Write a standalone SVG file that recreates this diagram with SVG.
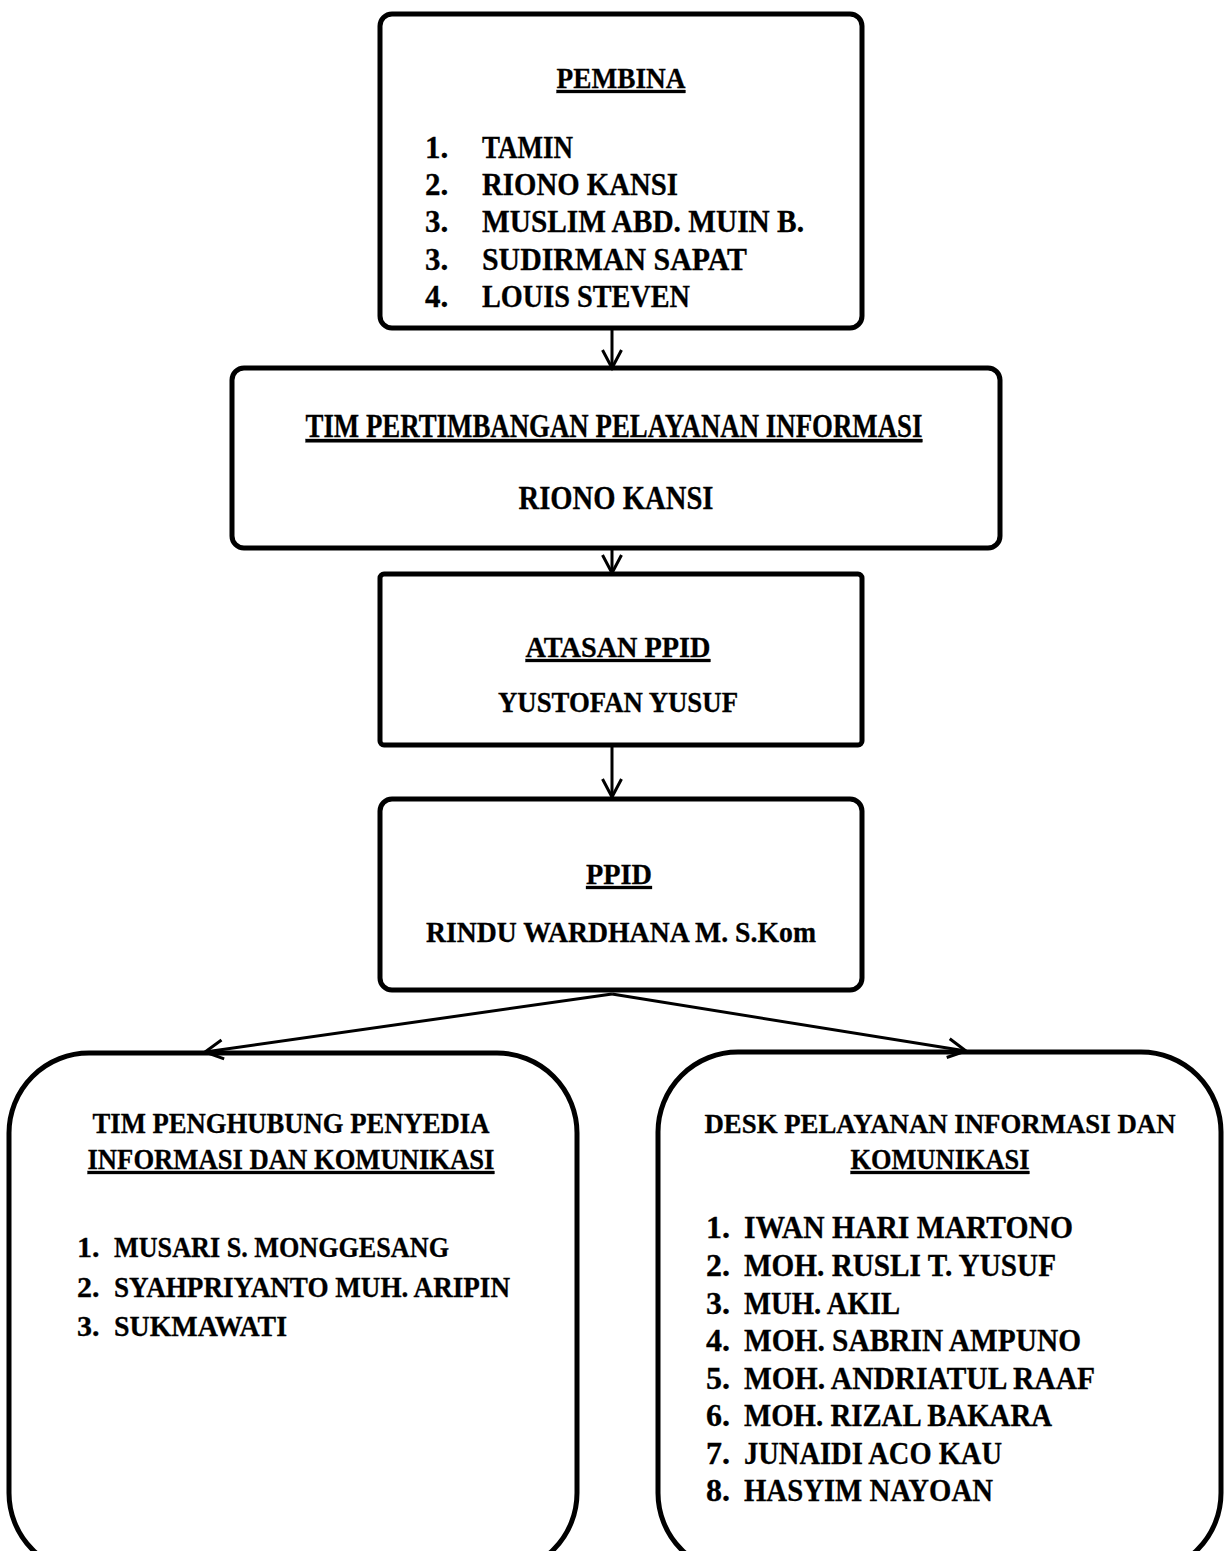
<svg xmlns="http://www.w3.org/2000/svg" width="1224" height="1551" viewBox="0 0 1224 1551">
<defs>
<style>
.box{fill:#fff;stroke:#000;stroke-width:5}
.t{font-family:"Liberation Serif","Times New Roman",serif;font-weight:bold;fill:#000;stroke:#000;stroke-width:0.3}
.u{text-decoration:underline}
.c{text-anchor:middle}
.con{fill:none;stroke:#000;stroke-width:3}
</style>
<marker id="arr" markerUnits="userSpaceOnUse" markerWidth="30" markerHeight="30" refX="21" refY="12" orient="auto">
<path d="M3,2.5 L21,12 L3,21.5" fill="none" stroke="#000" stroke-width="3"/>
</marker>
</defs>
<rect width="1224" height="1551" fill="#fff"/>

<g id="pembina">
<rect class="box" x="380" y="14" width="482" height="314" rx="12"/>
<text class="t c u" x="621" y="88" font-size="30" textLength="129" lengthAdjust="spacingAndGlyphs">PEMBINA</text>
<g class="t" font-size="31">
<text x="425" y="158">1.</text><text x="482" y="158" textLength="91" lengthAdjust="spacingAndGlyphs">TAMIN</text>
<text x="425" y="195">2.</text><text x="482" y="195" textLength="196" lengthAdjust="spacingAndGlyphs">RIONO KANSI</text>
<text x="425" y="232">3.</text><text x="482" y="232" textLength="322" lengthAdjust="spacingAndGlyphs">MUSLIM ABD. MUIN B.</text>
<text x="425" y="270">3.</text><text x="482" y="270" textLength="265" lengthAdjust="spacingAndGlyphs">SUDIRMAN SAPAT</text>
<text x="425" y="307">4.</text><text x="482" y="307" textLength="208" lengthAdjust="spacingAndGlyphs">LOUIS STEVEN</text>
</g>
</g>

<g id="tim-pertimbangan">
<rect class="box" x="232" y="368" width="768" height="180" rx="12"/>
<text class="t c u" x="614" y="437" font-size="33" textLength="617" lengthAdjust="spacingAndGlyphs">TIM PERTIMBANGAN PELAYANAN INFORMASI</text>
<text class="t c" x="616" y="509" font-size="33" textLength="195" lengthAdjust="spacingAndGlyphs">RIONO KANSI</text>
</g>

<g id="atasan-ppid">
<rect class="box" x="380" y="574" width="482" height="171" rx="4"/>
<text class="t c u" x="618" y="657" font-size="30" textLength="185" lengthAdjust="spacingAndGlyphs">ATASAN PPID</text>
<text class="t c" x="618" y="712" font-size="30" textLength="240" lengthAdjust="spacingAndGlyphs">YUSTOFAN YUSUF</text>
</g>

<g id="ppid">
<rect class="box" x="380" y="799" width="482" height="191" rx="12"/>
<text class="t c u" x="619" y="884" font-size="30" textLength="66" lengthAdjust="spacingAndGlyphs">PPID</text>
<text class="t c" x="621" y="942" font-size="30" textLength="390" lengthAdjust="spacingAndGlyphs">RINDU WARDHANA M. S.Kom</text>
</g>

<g id="tim-penghubung">
<rect class="box" x="9" y="1053" width="568" height="520" rx="80"/>
<text class="t c" x="291" y="1133" font-size="30" textLength="397" lengthAdjust="spacingAndGlyphs">TIM PENGHUBUNG PENYEDIA</text>
<text class="t c u" x="291" y="1169" font-size="30" textLength="407" lengthAdjust="spacingAndGlyphs">INFORMASI DAN KOMUNIKASI</text>
<g class="t" font-size="30">
<text x="77" y="1257">1.</text><text x="114" y="1257" textLength="335" lengthAdjust="spacingAndGlyphs">MUSARI S. MONGGESANG</text>
<text x="77" y="1297">2.</text><text x="114" y="1297" textLength="396" lengthAdjust="spacingAndGlyphs">SYAHPRIYANTO MUH. ARIPIN</text>
<text x="77" y="1336">3.</text><text x="114" y="1336" textLength="173" lengthAdjust="spacingAndGlyphs">SUKMAWATI</text>
</g>
</g>

<g id="desk-pelayanan">
<rect class="box" x="658" y="1052" width="563" height="521" rx="80"/>
<text class="t c" x="940" y="1133" font-size="28" textLength="471" lengthAdjust="spacingAndGlyphs">DESK PELAYANAN INFORMASI DAN</text>
<text class="t c u" x="940" y="1169" font-size="30" textLength="179" lengthAdjust="spacingAndGlyphs">KOMUNIKASI</text>
<g class="t" font-size="32">
<text x="706" y="1238">1.</text><text x="744" y="1238" textLength="329" lengthAdjust="spacingAndGlyphs">IWAN HARI MARTONO</text>
<text x="706" y="1276">2.</text><text x="744" y="1276" textLength="312" lengthAdjust="spacingAndGlyphs">MOH. RUSLI T. YUSUF</text>
<text x="706" y="1314">3.</text><text x="744" y="1314" textLength="156" lengthAdjust="spacingAndGlyphs">MUH. AKIL</text>
<text x="706" y="1351">4.</text><text x="744" y="1351" textLength="337" lengthAdjust="spacingAndGlyphs">MOH. SABRIN AMPUNO</text>
<text x="706" y="1389">5.</text><text x="744" y="1389" textLength="351" lengthAdjust="spacingAndGlyphs">MOH. ANDRIATUL RAAF</text>
<text x="706" y="1426">6.</text><text x="744" y="1426" textLength="308" lengthAdjust="spacingAndGlyphs">MOH. RIZAL BAKARA</text>
<text x="706" y="1464">7.</text><text x="744" y="1464" textLength="258" lengthAdjust="spacingAndGlyphs">JUNAIDI ACO KAU</text>
<text x="706" y="1501">8.</text><text x="744" y="1501" textLength="249" lengthAdjust="spacingAndGlyphs">HASYIM NAYOAN</text>
</g>
</g>

<g id="connectors">
<line class="con" x1="612" y1="330" x2="612" y2="368" marker-end="url(#arr)"/>
<line class="con" x1="612" y1="550" x2="612" y2="573" marker-end="url(#arr)"/>
<line class="con" x1="612" y1="747" x2="612" y2="797" marker-end="url(#arr)"/>
<line class="con" x1="612" y1="994" x2="205" y2="1052" marker-end="url(#arr)"/>
<line class="con" x1="612" y1="994" x2="966" y2="1051" marker-end="url(#arr)"/>
</g>
</svg>
